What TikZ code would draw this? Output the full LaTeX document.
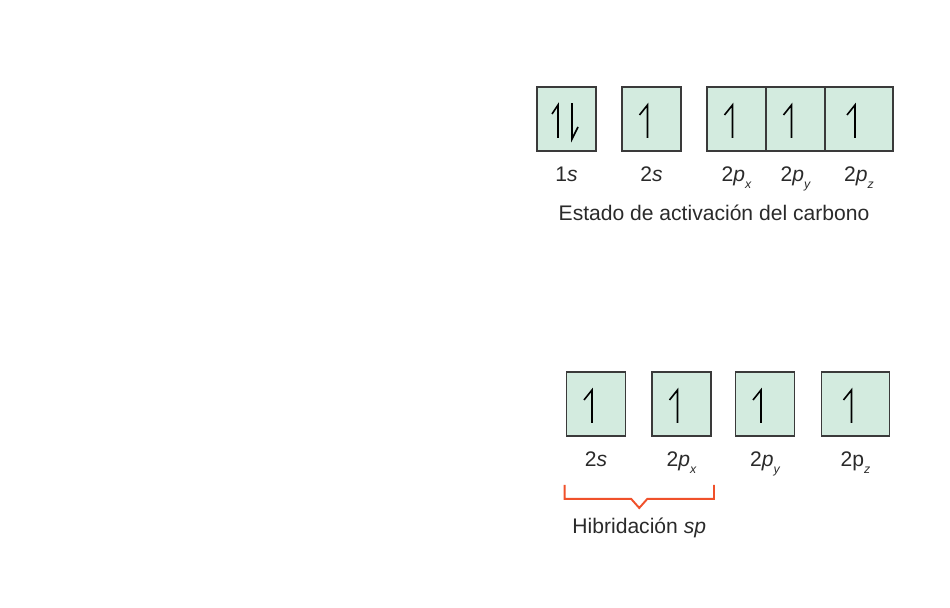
\documentclass[tikz,border=0pt]{standalone}
\usepackage{fontspec}
\setmainfont{Liberation Sans}
\usepackage{xcolor}
\usetikzlibrary{calc, positioning}
\definecolor{cdark}{HTML}{3A3A3A}
\definecolor{corb}{HTML}{D3EBDF}
\definecolor{cbrk}{HTML}{F0512B}
\definecolor{ctext}{HTML}{2A2A2A}
\newcommand{\orbp}[1]{2\textit{p}\raisebox{-0.6ex}{\scriptsize\itshape #1}}

\begin{document}
\begin{tikzpicture}[
    x=0.02cm, y=-0.02cm,
    font=\fontsize{12}{14}\selectfont, text=ctext,
    orb/.style={
        rectangle, draw=cdark, fill=corb, line width=1.1pt,
        minimum width=1.18cm, minimum height=1.28cm, inner sep=0pt
    },
    wideorb/.style={orb, minimum width=1.36cm},
    spin/.style={draw=black, line width=0.9pt, line join=miter},
    lbl/.style={anchor=base, inner sep=0pt},
    brk/.style={draw=cbrk, line width=1.1pt},
]
\useasboundingbox (0,0) rectangle (950,608);

% --- Estado de activacion (top row) -----------------------------------------
\node[orb]     (a1s)  at (566.5,119) {};
\node[orb]     (a2s)  at (651.5,119) {};
\node[orb]     (a2px) at (736.5,119) {};
\node[orb]     (a2py) at (795.5,119) {};
\node[wideorb] (a2pz) at (859,119)   {};

\node[lbl] (la1s)  at ([yshift=-0.6cm]a1s.south)  {1\textit{s}};
\node[lbl] (la2s)  at ([yshift=-0.6cm]a2s.south)  {2\textit{s}};
\node[lbl] (la2px) at ([yshift=-0.6cm]a2px.south) {\orbp{x}};
\node[lbl] (la2py) at ([yshift=-0.6cm]a2py.south) {\orbp{y}};
\node[lbl] (la2pz) at ([yshift=-0.6cm]a2pz.south) {\orbp{z}};
\node[lbl] (tact) at (714,220) {Estado de activación del carbono};

% --- Hibridacion sp (bottom row) --------------------------------------------
\node[orb]     (h2s)  at (596,404)   {};
\node[orb]     (h2px) at (681.5,404) {};
\node[orb]     (h2py) at (765,404)   {};
\node[wideorb] (h2pz) at (855.5,404) {};

\node[lbl] (lh2s)  at ([yshift=-0.6cm]h2s.south)  {2\textit{s}};
\node[lbl] (lh2px) at ([yshift=-0.6cm]h2px.south) {\orbp{x}};
\node[lbl] (lh2py) at ([yshift=-0.6cm]h2py.south) {\orbp{y}};
\node[lbl] (lh2pz) at ([yshift=-0.6cm]h2pz.south) {2p\raisebox{-0.6ex}{\scriptsize\itshape z}};

% --- Electrons (half arrows) ------------------------------------------------
\draw[spin] ([xshift=-0.17cm, yshift=-0.38cm]a1s.center) -- ++(0,-33) -- ++(-6,9);
\draw[spin] ([xshift=0.11cm, yshift=0.32cm]a1s.center) -- ++(0,36) -- ++(6,-12);
\foreach \o in {a2s, a2px, a2py, a2pz, h2s, h2px, h2py, h2pz}
    \draw[spin] ([xshift=-0.08cm, yshift=-0.38cm]\o.center) -- ++(0,-33) -- ++(-8,10);

% --- Bracket ----------------------------------------------------------------
\coordinate (bl) at ($(h2s.south west)+(-1,48)$);
\coordinate (br) at ($(h2px.south east)+(2,48)$);
\coordinate (bm) at ($(bl)!0.5!(br)+(0,23)$);
\draw[brk] (bl) -- ++(0,14) -- ($(bm)+(-8,-9)$) -- (bm) -- ($(bm)+(8,-9)$)
    -- ($(br)+(0,14)$) -- (br);
\node[lbl] (thib) at ($(bm)+(0,26)$) {Hibridación \textit{sp}};

\end{tikzpicture}
\end{document}
